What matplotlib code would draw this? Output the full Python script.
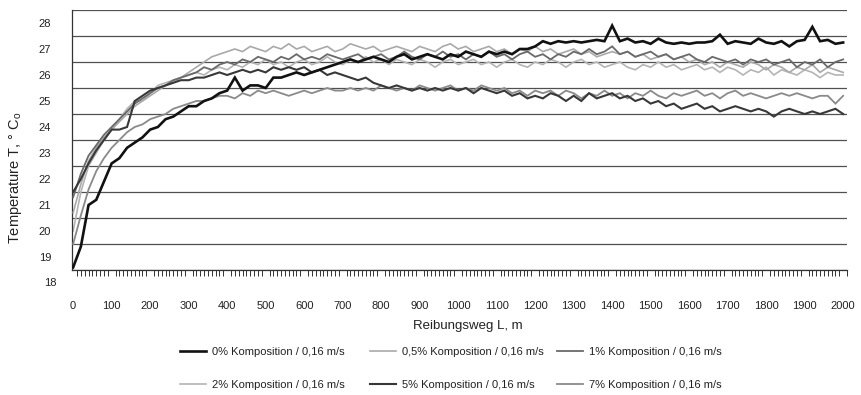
import numpy as np
import matplotlib
matplotlib.use("Agg")
import matplotlib.pyplot as plt

# ---------------- data ----------------
distance = list(range(0, 2001, 20))  # Reibungsweg L, m

komp_0 = [18.6,19.4,21.0,21.2,21.9,22.6,22.8,23.2,23.4,23.6,
          23.9,24.0,24.3,24.4,24.6,24.8,24.8,25.0,25.1,25.3,
          25.4,25.9,25.4,25.6,25.6,25.5,25.9,25.9,26.0,26.1,
          26.0,26.1,26.2,26.3,26.4,26.5,26.6,26.5,26.6,26.7,
          26.6,26.5,26.7,26.8,26.6,26.7,26.8,26.7,26.6,26.8,
          26.7,26.9,26.8,26.7,26.9,26.8,26.9,26.8,27.0,27.0,
          27.1,27.3,27.2,27.3,27.25,27.3,27.25,27.3,27.35,27.3,
          27.9,27.3,27.4,27.25,27.3,27.2,27.4,27.25,27.2,27.25,
          27.2,27.25,27.25,27.3,27.55,27.2,27.3,27.25,27.2,27.4,
          27.25,27.2,27.3,27.1,27.3,27.35,27.85,27.3,27.35,27.2,
          27.25]

komp_05 = [20.7,21.8,22.7,23.2,23.6,23.9,24.2,24.5,24.8,25.0,
           25.2,25.4,25.6,25.7,25.9,26.1,26.3,26.5,26.7,26.8,
           26.9,27.0,26.9,27.1,27.0,26.9,27.1,27.0,27.2,27.0,
           27.1,26.9,27.0,27.1,26.9,27.0,27.2,27.1,27.0,27.1,
           26.9,27.0,27.1,27.0,26.9,27.1,27.0,26.9,27.1,27.2,
           27.0,27.1,26.9,27.0,27.1,26.9,27.0,26.8,27.0,26.9,
           27.1,26.9,27.0,26.8,26.9,27.0,26.8,26.9,26.7,26.8,
           26.9,26.8,26.9,26.7,26.8,26.6,26.7,26.8,26.6,26.7,
           26.5,26.6,26.4,26.5,26.3,26.5,26.4,26.3,26.5,26.4,
           26.2,26.4,26.3,26.1,26.3,26.2,26.4,26.1,26.3,26.2,
           26.1]

komp_1 = [21.3,22.2,22.9,23.3,23.7,24.0,24.3,24.6,24.9,25.1,
          25.3,25.5,25.6,25.8,25.9,26.0,26.1,26.3,26.2,26.4,
          26.5,26.4,26.6,26.5,26.7,26.6,26.5,26.7,26.6,26.8,
          26.6,26.7,26.6,26.8,26.7,26.6,26.7,26.8,26.6,26.7,
          26.8,26.6,26.7,26.9,26.7,26.6,26.8,26.7,26.9,26.7,
          26.8,26.6,26.8,26.7,26.9,26.7,26.8,26.6,26.8,26.9,
          26.7,26.8,26.6,26.8,26.7,26.9,26.8,27.0,26.8,26.9,
          27.1,26.8,26.9,26.7,26.8,26.9,26.7,26.8,26.6,26.7,
          26.8,26.6,26.5,26.7,26.6,26.5,26.6,26.4,26.6,26.5,
          26.6,26.4,26.5,26.6,26.3,26.5,26.4,26.6,26.3,26.5,
          26.6]

komp_2 = [20.0,21.5,22.5,23.0,23.5,23.9,24.3,24.7,25.0,25.0,
          25.3,25.6,25.7,25.8,25.9,26.0,26.1,26.0,26.2,26.3,
          26.2,26.4,26.3,26.5,26.4,26.6,26.4,26.5,26.3,26.5,
          26.6,26.4,26.5,26.7,26.5,26.4,26.6,26.5,26.7,26.5,
          26.6,26.4,26.6,26.5,26.4,26.6,26.5,26.3,26.5,26.6,
          26.4,26.5,26.6,26.4,26.5,26.3,26.5,26.6,26.4,26.3,
          26.5,26.4,26.6,26.5,26.3,26.5,26.6,26.4,26.5,26.3,
          26.4,26.5,26.3,26.2,26.4,26.3,26.5,26.3,26.4,26.2,
          26.3,26.4,26.2,26.3,26.1,26.3,26.2,26.0,26.2,26.1,
          26.3,26.0,26.2,26.1,26.0,26.2,26.1,25.9,26.1,26.0,
          26.0]

komp_5 = [21.5,22.0,22.6,23.1,23.5,23.9,23.9,24.0,25.0,25.2,
          25.4,25.5,25.6,25.7,25.8,25.8,25.9,25.9,26.0,26.1,
          26.0,26.1,26.2,26.1,26.2,26.1,26.3,26.2,26.3,26.2,
          26.3,26.1,26.2,26.0,26.1,26.0,25.9,25.8,25.9,25.7,
          25.6,25.5,25.6,25.5,25.4,25.5,25.4,25.5,25.4,25.5,
          25.4,25.5,25.3,25.5,25.4,25.3,25.4,25.2,25.3,25.1,
          25.2,25.1,25.3,25.2,25.0,25.2,25.0,25.3,25.1,25.2,
          25.3,25.1,25.2,25.0,25.1,24.9,25.0,24.8,24.9,24.7,
          24.8,24.9,24.7,24.8,24.6,24.7,24.8,24.7,24.6,24.7,
          24.6,24.4,24.6,24.7,24.6,24.5,24.6,24.5,24.6,24.7,
          24.5]

komp_7 = [19.5,20.6,21.6,22.3,22.8,23.2,23.5,23.8,24.0,24.1,
          24.3,24.4,24.5,24.7,24.8,24.9,25.0,25.0,25.1,25.2,
          25.2,25.1,25.3,25.2,25.4,25.3,25.4,25.3,25.2,25.3,
          25.4,25.3,25.4,25.5,25.4,25.4,25.5,25.4,25.5,25.4,
          25.6,25.5,25.4,25.5,25.4,25.6,25.5,25.4,25.5,25.6,
          25.4,25.5,25.4,25.6,25.5,25.4,25.5,25.3,25.4,25.2,
          25.4,25.3,25.4,25.2,25.4,25.3,25.1,25.3,25.2,25.4,
          25.2,25.3,25.1,25.3,25.2,25.4,25.2,25.1,25.3,25.2,
          25.3,25.4,25.2,25.3,25.1,25.3,25.4,25.2,25.3,25.2,
          25.1,25.2,25.3,25.2,25.3,25.2,25.1,25.2,25.2,24.9,
          25.2]

series_labels = ["0% Komposition / 0,16 m/s", "0,5% Komposition / 0,16 m/s",
                 "1% Komposition / 0,16 m/s", "2% Komposition / 0,16 m/s",
                 "5% Komposition / 0,16 m/s", "7% Komposition / 0,16 m/s"]
series_values = [komp_0, komp_05, komp_1, komp_2, komp_5, komp_7]

x_ticks = list(range(0, 2001, 100))
y_tick_values = list(range(18, 29))

# ---------------- style ----------------
colors = ["#111111", "#a9a9a9", "#6a6a6a", "#b4b4b4", "#383838", "#8a8a8a"]
widths = [1.9, 1.2, 1.3, 1.2, 1.5, 1.3]
zorders = [3, 2.6, 2.8, 2.5, 2.9, 2.7]

sans = ["Liberation Sans", "DejaVu Sans"]
narrow = ["Liberation Sans Narrow", "Liberation Sans", "DejaVu Sans"]
plt.rcParams["font.family"] = sans

W, H = 861, 395
fig = plt.figure(figsize=(W / 100, H / 100), dpi=100)
fig.patch.set_facecolor("white")
ax = fig.add_axes([72 / W, 1 - 270 / H, 775 / W, 260 / H])

lines = []
for vals, lab, c, lw, z in zip(series_values, series_labels, colors, widths, zorders):
    ln, = ax.plot(distance, vals, color=c, lw=lw, label=lab, zorder=z,
                  solid_joinstyle="miter")
    lines.append(ln)

ax.set_xlim(-3, 2010)
ax.set_ylim(18.5, 28.5)

# horizontal grid lines on half-integer positions
ax.set_yticks(np.arange(18.5, 28.6, 1.0), minor=True)
ax.grid(which="minor", axis="y", color="#505050", lw=0.9)
ax.tick_params(axis="y", which="minor", length=0)
ax.set_yticks(y_tick_values[1:])
ax.set_yticklabels([str(v) for v in y_tick_values[1:]])
ax.tick_params(axis="y", which="major", length=0, pad=15, labelsize=8,
               labelcolor="#222222")
# lowest label sits below the axis line
ax.annotate(str(y_tick_values[0]), xy=(0, y_tick_values[0]),
            xycoords=ax.get_yaxis_transform(), xytext=(-15, 0),
            textcoords="offset pixels", ha="right", va="center",
            fontsize=8, color="#222222", annotation_clip=False)

ax.set_xticks(x_ticks)
ax.set_xticklabels([str(v) for v in x_ticks], fontfamily=narrow)
ax.set_xticks(np.arange(0, 2011, 10), minor=True)
ax.tick_params(axis="x", which="major", length=0, pad=22, labelsize=8,
               labelcolor="#222222")
ax.tick_params(axis="x", which="minor", length=4, width=0.7, color="#333333",
               direction="out")

for s in ["top", "right"]:
    ax.spines[s].set_visible(False)
ax.spines["left"].set_color("#333333")
ax.spines["left"].set_linewidth(0.9)
ax.spines["bottom"].set_color("#333333")
ax.spines["bottom"].set_linewidth(0.9)

fig.text(16 / W, 1 - 178 / H, "Temperature T, \u00b0 C$_\\mathregular{o}$",
         rotation=90, ha="center", va="center", fontsize=10.5, color="#222222")
fig.text(468 / W, 1 - 326 / H, "Reibungsweg L, m", ha="center", va="center",
         fontsize=9.5, color="#222222")

# legend: three columns, two rows (row 1: 0%, 0,5%, 1%; row 2: 2%, 5%, 7%)
col_x = [180, 370, 557]
col_items = [(0, 3), (1, 4), (2, 5)]
for cx, (a, b) in zip(col_x, col_items):
    leg = fig.legend([lines[a], lines[b]], [series_labels[a], series_labels[b]],
                     loc="upper left", bbox_to_anchor=(cx / W, 1 - 347 / H),
                     frameon=False, fontsize=8, handlelength=2.3,
                     handletextpad=0.55, labelspacing=2.05, borderpad=0,
                     borderaxespad=0)
    for t in leg.get_texts():
        t.set_color("#222222")

fig.savefig("out.png", dpi=100, facecolor="white")
